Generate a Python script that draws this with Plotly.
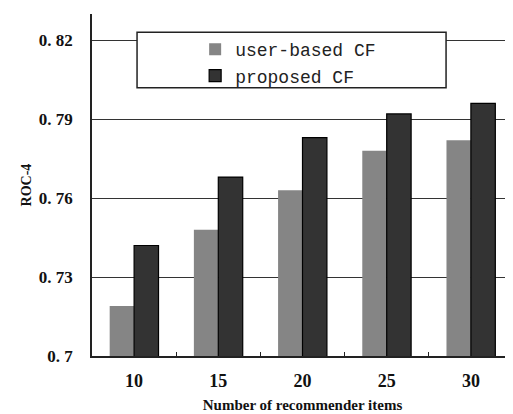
import plotly.graph_objects as go

categories = ["10", "15", "20", "25", "30"]
user_based = [0.719, 0.748, 0.763, 0.778, 0.782]
proposed = [0.742, 0.768, 0.783, 0.792, 0.796]
y_tickvals = [0.7, 0.73, 0.76, 0.79, 0.82]
y_ticktext = ["0. 7", "0. 73", "0. 76", "0. 79", "0. 82"]

serif = "Liberation Serif, Times New Roman, serif"

fig = go.Figure()
fig.add_trace(go.Bar(x=categories, y=user_based, name="user-based CF",
                     marker=dict(color="#858585", line=dict(width=0))))
fig.add_trace(go.Bar(x=categories, y=proposed, name="proposed CF",
                     marker=dict(color="#333333", line=dict(color="#000000", width=1.2))))

fig.add_shape(type="rect", xref="paper", yref="paper", x0=0.107, x1=0.841, y0=0.784, y1=0.947,
              fillcolor="white", line=dict(color="#222222", width=1.5), layer="above")

fig.update_layout(
    width=505, height=406,
    margin=dict(l=84, r=0, t=6, b=58),
    paper_bgcolor="white", plot_bgcolor="white",
    barmode="group", bargap=0.42, bargroupgap=0.0,
    showlegend=True,
    legend=dict(x=0.245, y=0.95, xanchor="left", yanchor="top",
                bgcolor="rgba(0,0,0,0)", borderwidth=0,
                font=dict(family="Liberation Mono, DejaVu Sans Mono, monospace", size=18, color="#222222"),
                itemwidth=30, tracegroupgap=0),
    xaxis=dict(showline=True, linecolor="#222222", linewidth=1.5, automargin=False,
               ticks="inside", ticklen=4, tickcolor="#222222", tickson="boundaries",
               tickfont=dict(family=serif, size=18, color="#111111", weight="bold"),
               ticklabelstandoff=8,
               title=dict(text="Number of recommender items", standoff=9,
                          font=dict(family=serif, size=15, color="#111111", weight="bold")),
               showgrid=False),
    yaxis=dict(range=[0.7, 0.83], showline=True, linecolor="#222222", linewidth=1.5,
               automargin=False,
               tickvals=y_tickvals, ticktext=y_ticktext,
               tickfont=dict(family=serif, size=17, color="#111111", weight="bold"),
               showgrid=True, gridcolor="#333333", gridwidth=1.3, zeroline=False,
               ticks="", ticklabelstandoff=14,
               title=dict(text="ROC-4", standoff=4,
                          font=dict(family=serif, size=14, color="#111111", weight="bold"))),
)

fig.write_html("out.html")
